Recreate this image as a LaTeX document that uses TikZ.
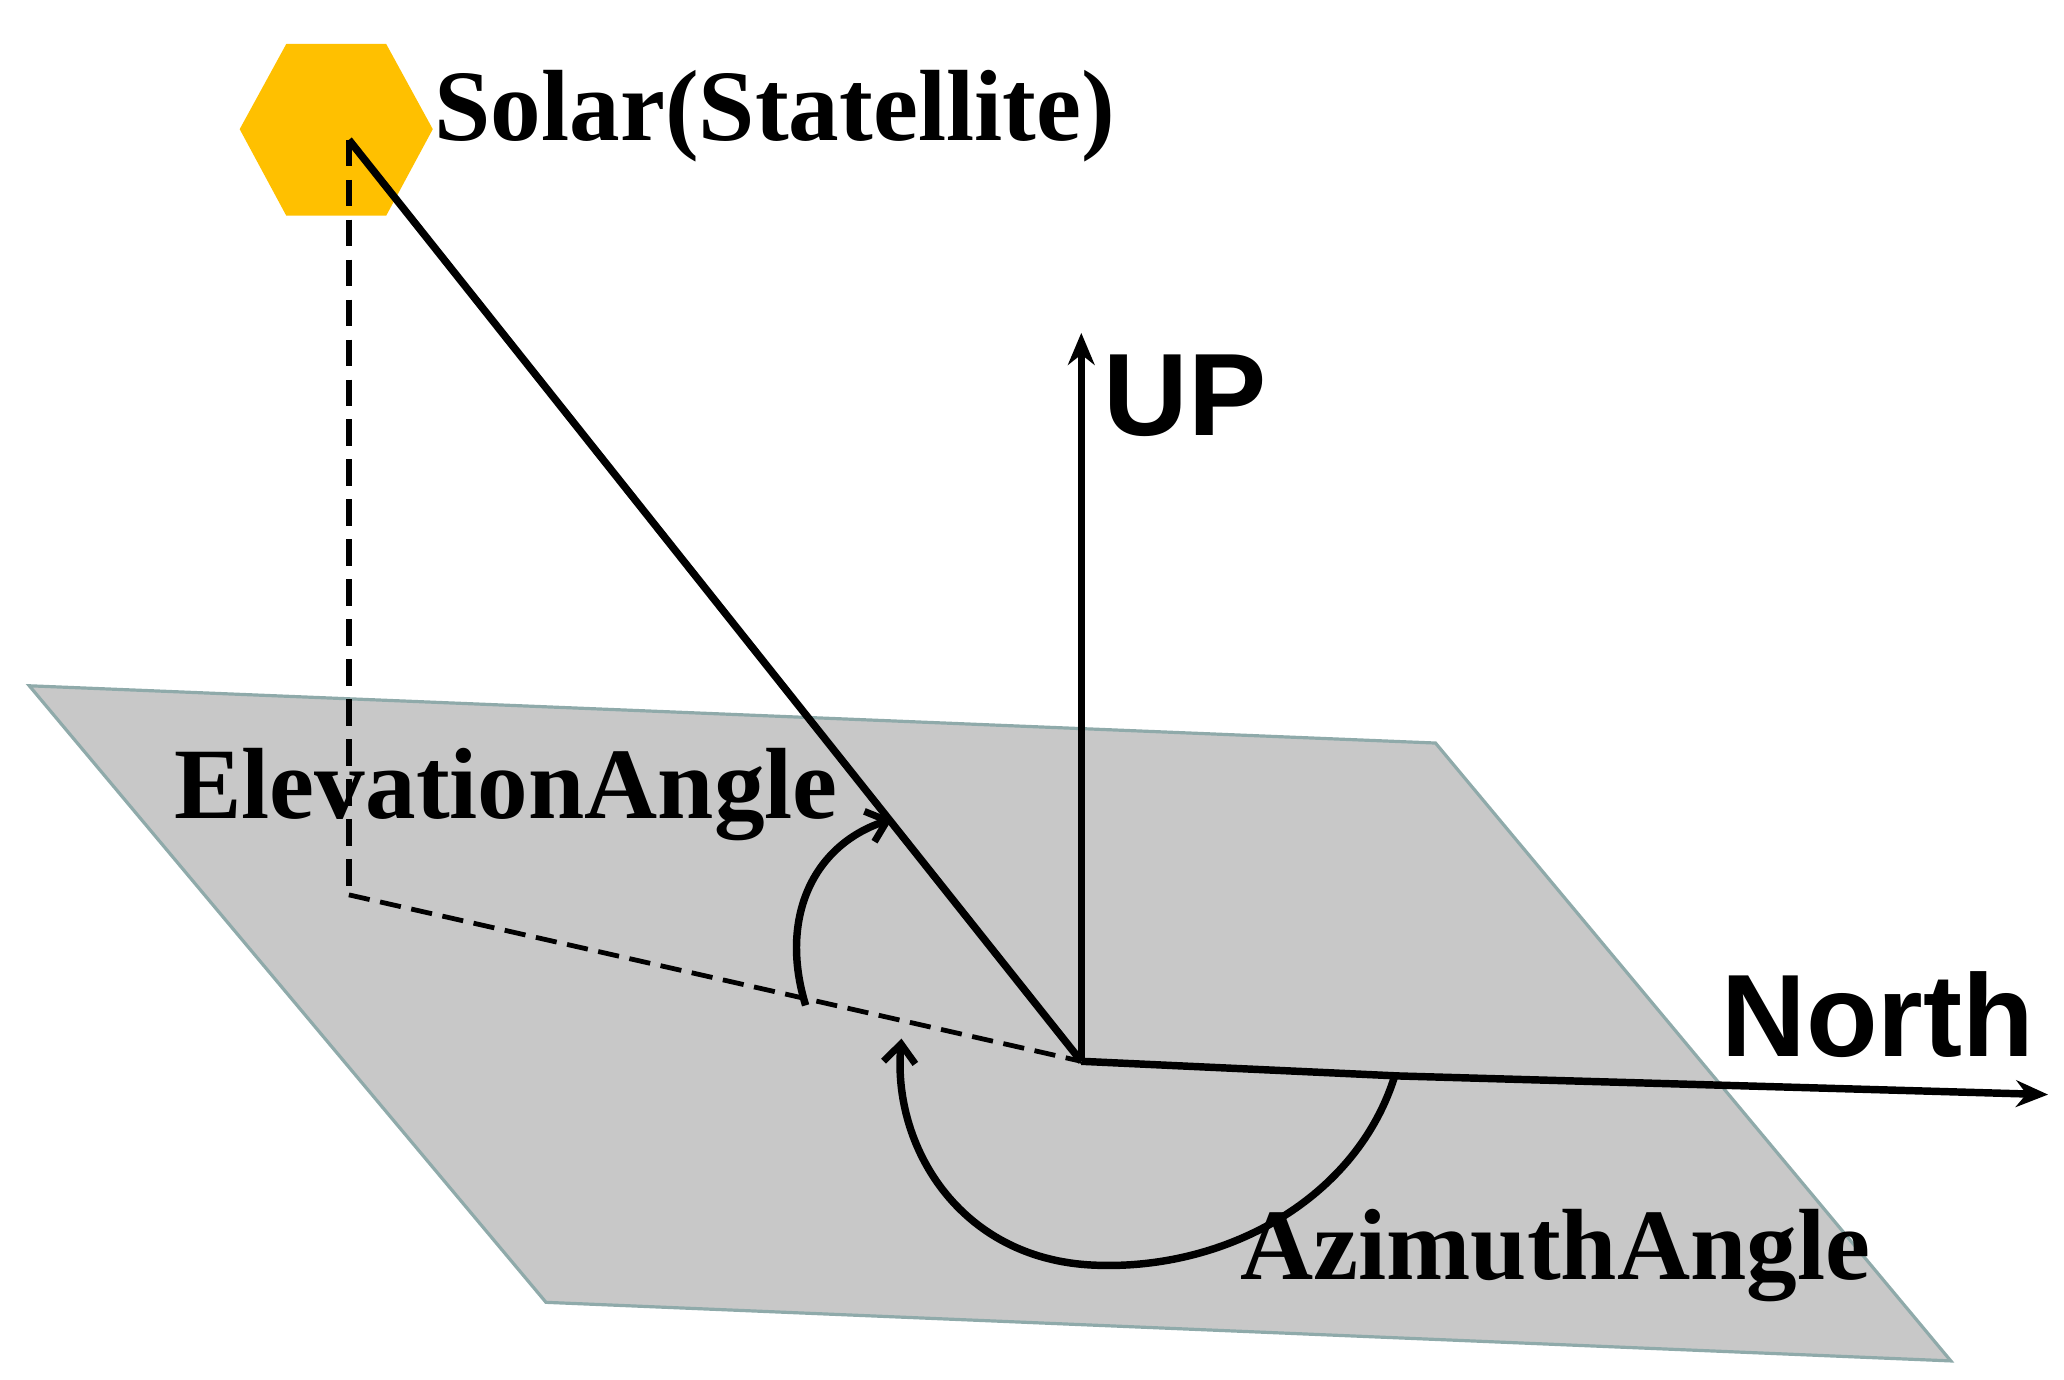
\documentclass[tikz,border=0pt]{standalone}
\usepackage{fontspec}
\setmainfont{Liberation Serif}
\newfontfamily\sansb{Liberation Sans}
\usetikzlibrary{arrows.meta}
\definecolor{plane}{HTML}{C8C8C8}
\definecolor{planeedge}{HTML}{8FAAAA}
\definecolor{sun}{HTML}{FFC000}
\tikzset{ln/.style={line width=2.8pt,black},
 arr/.style={ln,-{Stealth[length=12pt,width=10pt]}},
 oarr/.style={ln,-{Straight Barb[length=7pt,width=12pt,line width=2.6pt]}},
 dsh/.style={line width=2.2pt,dash pattern=on 10pt off 5pt},
 lbl/.style={font=\bfseries\fontsize{38}{42}\selectfont,inner sep=0pt},
 slbl/.style={font=\sansb\bfseries\fontsize{44}{48}\selectfont,inner sep=0pt}}
\begin{document}
\begin{tikzpicture}[x=0.5pt,y=-0.5pt]
\useasboundingbox (0,0) rectangle (1550,1036);
\fill[plane,draw=planeedge,line width=1.2pt] (22,515)--(1078,558)--(1465,1022)--(410,978)--cycle;
\fill[sun] (215,33)--(290,33)--(325,97)--(290,162)--(215,162)--(180,97)--cycle;
\coordinate (O) at (812,797);
\coordinate (S) at (262,105);
\coordinate (P) at (262,672);
\coordinate (U) at (812,250);
\coordinate (N) at (1538,822);
\draw[dsh] (S)--(P);
\draw[line width=1.8pt,dash pattern=on 8pt off 4pt] (P)--(O);
\draw[ln] (S)--(O);
\draw[arr] (O)--(U);
\draw[arr] (O)--(1050,808)--(N);
\draw[oarr] (605,755) .. controls (585,690) and (610,635) .. (670,615);
\draw[oarr] (1048,806) .. controls (1020,900) and (920,955) .. (820,950) .. controls (720,945) and (670,860) .. (677,780);
\node[lbl,anchor=west] (sl) at (326,87) {Solar(Statellite)};
\node[lbl] (el) at (380,597) {ElevationAngle};
\node[lbl] (az) at (1168,943) {AzimuthAngle};
\node[slbl] (up) at (890,297) {UP};
\node[slbl] (no) at (1410,762) {North};
\end{tikzpicture}
\end{document}
